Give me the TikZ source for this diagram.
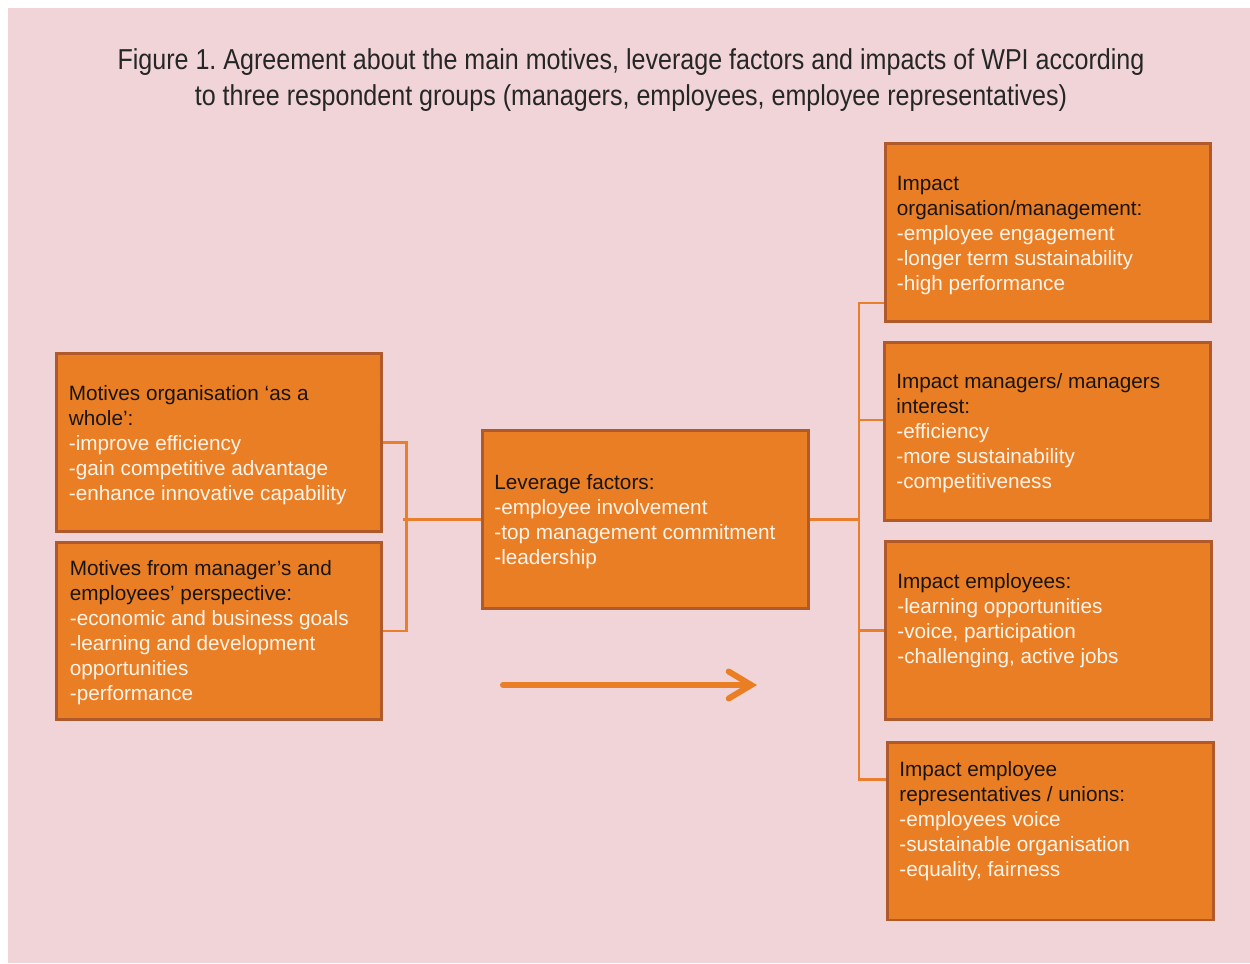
\documentclass[tikz,border=0pt]{standalone}
\usepackage{fontspec}
\setmainfont{Liberation Sans}
\newfontfamily\titlefont[FakeStretch=0.87]{Liberation Sans}
\usetikzlibrary{calc,arrows.meta}
\frenchspacing

\definecolor{bgpink}{HTML}{F0D4D7}
\definecolor{boxorange}{HTML}{E97E25}
\definecolor{boxedge}{HTML}{B0592A}
\definecolor{linkorange}{HTML}{E97E2C}
\definecolor{headcol}{HTML}{1A1410}
\definecolor{itemcol}{HTML}{FFF4EA}

\newcommand{\boxhead}[1]{{\color{headcol}#1}}

\tikzset{
    box/.style={draw=boxedge, fill=boxorange, line width=1.7pt,
        minimum width=6.52cm, minimum height=3.56cm, inner sep=0pt},
    txt/.style={anchor=north west, inner sep=0pt, align=left, text=itemcol,
        font=\fontsize{11.8}{14.2}\selectfont},
    link/.style={draw=linkorange, line width=1.3pt},
    bigarrow/.style={draw=boxorange, line width=3.4pt, line cap=round,
        -{Straight Barb[length=4.5mm, width=5.4mm, line cap=round]}}
}

\begin{document}
\begin{tikzpicture}[x=0.02cm, y=-0.02cm]
    \useasboundingbox (0, 0) rectangle (1250, 963);
    \fill[bgpink] (8, 8) rectangle (1250, 963);

    \node[font=\titlefont\fontsize{16.4}{20}\selectfont, text=black!85, align=center] (title) at (631, 80)
        {Figure 1. Agreement about the main motives, leverage factors and impacts of WPI according\\
         to three respondent groups (managers, employees, employee representatives)};

    %%motives
    \node[box] (m1) at (219, 442.5) {};
    \node[box] (m2) at (219, 631) {};
        \node[txt] (m1text) at ($(m1.north west)+(14, 33)$) {\boxhead{Motives organisation ‘as a}\\\boxhead{whole’:}\\-improve efficiency\\-gain competitive advantage\\-enhance innovative capability};
        \node[txt] (m2text) at ($(m2.north west)+(15, 20)$) {\boxhead{Motives from manager’s and}\\\boxhead{employees’ perspective:}\\-economic and business goals\\-learning and development\\opportunities\\-performance};

    %%leverage
    \node[box] (lev) at (645.5, 519.5) {};
        \node[txt] (levtext) at ($(lev.north west)+(13, 45)$) {\boxhead{Leverage factors:}\\-employee involvement\\-top management commitment\\-leadership};

    %%impacts
    \node[box] (imp1) at (1048, 232.5) {};
    \node[box] (imp2) at (1047.5, 431.5) {};
    \node[box] (imp3) at (1048.5, 630.5) {};
    \node[box] (imp4) at (1050.5, 831) {};
        \node[txt] (imp1text) at ($(imp1.north west)+(13, 34)$) {\boxhead{Impact}\\\boxhead{organisation/management:}\\-employee engagement\\-longer term sustainability\\-high performance};
        \node[txt] (imp2text) at ($(imp2.north west)+(13, 32)$) {\boxhead{Impact managers/ managers}\\\boxhead{interest:}\\-efficiency\\-more sustainability\\-competitiveness};
        \node[txt] (imp3text) at ($(imp3.north west)+(13, 33)$) {\boxhead{Impact employees:}\\-learning opportunities\\-voice, participation\\-challenging, active jobs};
        \node[txt] (imp4text) at ($(imp4.north west)+(13, 21)$) {\boxhead{Impact employee}\\\boxhead{representatives / unions:}\\-employees voice\\-sustainable organisation\\-equality, fairness};

    %%left bracket
    \draw[link] (m1.east) -- ++(23, 0) |- (m2.east);
    \draw[link] (lev.west) -- ++(-78, 0);

    %%right bracket
    \draw[link] (lev.east) -- ++(49, 0) coordinate (hub);
    \coordinate (b1) at ($(imp1.south west)+(0, -20)$);
    \coordinate (b2) at ($(imp2.west)+(0, -11.5)$);
    \coordinate (b3) at (imp3.west);
    \coordinate (b4) at ($(imp4.north west)+(0, 39)$);
    \draw[link] (b1) -- (b1 -| hub) -- (b4 -| hub) -- (b4);
    \draw[link] (b2) -- (b2 -| hub);
    \draw[link] (b3) -- (b3 -| hub);

    %%arrow
    \coordinate (arrowstart) at (503, 685);
    \coordinate (arrowend) at (757, 685);
    \draw[bigarrow] (arrowstart) -- (arrowend);

\end{tikzpicture}
\end{document}
